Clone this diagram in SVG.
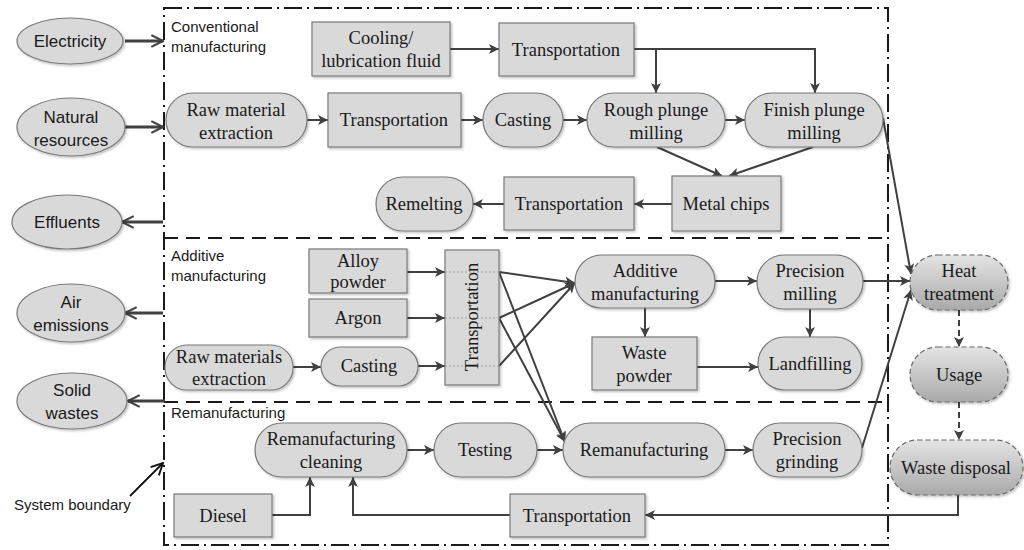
<svg xmlns="http://www.w3.org/2000/svg" width="1024" height="550" viewBox="0 0 1024 550">
<defs>
<style>
.n{fill:#d9d9d9;stroke:#7a7a7a;stroke-width:1.2;filter:url(#sh)}
.g{fill:url(#gr);stroke:#6a6a6a;stroke-width:1.2;stroke-dasharray:5 3;filter:url(#sh)}
.e{fill:#d9d9d9;stroke:#7a7a7a;stroke-width:1.2;filter:url(#sh)}
.t{font-family:"Liberation Serif","Times New Roman",serif;font-size:18.5px;fill:#1a1a1a;text-anchor:middle}
.s{font-family:"Liberation Sans",Arial,sans-serif;font-size:17px;fill:#1a1a1a;text-anchor:middle}
.l{font-family:"Liberation Sans",Arial,sans-serif;font-size:15px;fill:#1a1a1a}
.c{fill:none;stroke:#404040;stroke-width:2;marker-end:url(#a)}
.cn{fill:none;stroke:#404040;stroke-width:2}
.cd{fill:none;stroke:#404040;stroke-width:2;stroke-dasharray:6 4;marker-end:url(#a)}
.o{fill:none;stroke:#404040;stroke-width:3;marker-end:url(#o)}
.dot{stroke:#a0a0a0;stroke-width:1;stroke-dasharray:2 2}
</style>
<filter id="sh" x="-10%" y="-10%" width="125%" height="130%">
<feDropShadow dx="1.5" dy="1.5" stdDeviation="1.2" flood-color="#000" flood-opacity="0.25"/>
</filter>
<linearGradient id="gr" x1="0" y1="0" x2="0" y2="1">
<stop offset="0" stop-color="#e4e4e4"/>
<stop offset="1" stop-color="#a9a9a9"/>
</linearGradient>
<marker id="a" viewBox="0 0 10 10" refX="10" refY="5" markerWidth="12" markerHeight="10" markerUnits="userSpaceOnUse" orient="auto">
<path d="M0,0 L10,5 L0,10 L2.5,5 z" fill="#404040"/>
</marker>
<marker id="o" viewBox="0 0 12 12" refX="11" refY="6" markerWidth="14" markerHeight="16" markerUnits="userSpaceOnUse" orient="auto">
<path d="M1,1 L11,6 L1,11" fill="none" stroke="#404040" stroke-width="1.8"/>
</marker>
<marker id="ob" viewBox="0 0 12 12" refX="11" refY="6" markerWidth="14" markerHeight="14" markerUnits="userSpaceOnUse" orient="auto">
<path d="M1,1 L11,6 L1,11" fill="none" stroke="#111" stroke-width="1.6"/>
</marker>
</defs>
<rect width="1024" height="550" fill="#fff"/>

<g id="boundary">
<rect x="164" y="8" width="724" height="537" fill="none" stroke="#1a1a1a" stroke-width="2" stroke-dasharray="18 5 2 5"/>
<line x1="164" y1="238" x2="888" y2="238" stroke="#1a1a1a" stroke-width="2" stroke-dasharray="14 8"/>
<line x1="164" y1="402" x2="888" y2="402" stroke="#1a1a1a" stroke-width="2" stroke-dasharray="14 8"/>
<text class="l" x="171" y="32">Conventional</text>
<text class="l" x="171" y="52">manufacturing</text>
<text class="l" x="171" y="261">Additive</text>
<text class="l" x="171" y="281">manufacturing</text>
<text class="l" x="171" y="418">Remanufacturing</text>
<text class="l" x="14" y="510">System boundary</text>
</g>

<g id="connectors">
<path class="o" d="M125,41 H163"/>
<path class="o" d="M125,127 H163"/>
<path class="o" d="M163,222 H122"/>
<path class="o" d="M163,313 H125"/>
<path class="o" d="M165,401 H128"/>
<path d="M130,496 L163,463" fill="none" stroke="#111" stroke-width="1.8" marker-end="url(#ob)"/>
<path class="c" d="M450,49 H499"/>
<path class="c" d="M634,49 H656 V93"/>
<path class="c" d="M656,49 H815 V93"/>
<path class="c" d="M307,120 H328"/>
<path class="c" d="M461,120 H483"/>
<path class="c" d="M563,120 H587"/>
<path class="c" d="M725,120 H745"/>
<path class="c" d="M657,147 L722,176"/>
<path class="c" d="M813,147 L729,176"/>
<path class="c" d="M672,204 H634"/>
<path class="c" d="M504,204 H473"/>
<path class="c" d="M883,118 L911,274"/>
<path class="c" d="M407,272 H445"/>
<path class="c" d="M407,318 H445"/>
<path class="c" d="M293,367 H321"/>
<path class="c" d="M418,366 H445"/>
<path class="c" d="M499,272 L575,283"/>
<path class="c" d="M499,318 L575,283"/>
<path class="c" d="M499,366 L575,283"/>
<path class="c" d="M499,272 L565,442"/>
<path class="c" d="M499,318 L565,442"/>
<path class="c" d="M715,281 H757"/>
<path class="c" d="M863,281 H910"/>
<path class="c" d="M645,308 V337"/>
<path class="c" d="M810,309 V337"/>
<path class="c" d="M697,367 H758"/>
<path class="c" d="M407,450 H434"/>
<path class="c" d="M537,450 H563"/>
<path class="c" d="M725,450 H753"/>
<path class="c" d="M862,448 L911,290"/>
<path class="c" d="M272,515 H310 V477"/>
<path class="c" d="M510,515 H353 V477"/>
<path class="c" d="M958,495 V515 H645"/>
<path class="cd" d="M959,310 V347"/>
<path class="cd" d="M959,402 V440"/>
</g>

<g id="electricity"><ellipse class="e" cx="70" cy="41" rx="53" ry="23"/><text class="s" x="70" y="47">Electricity</text></g>
<g id="natural-resources"><ellipse class="e" cx="71" cy="127" rx="54" ry="29"/><text class="s" x="71" y="123">Natural</text><text class="s" x="71" y="146">resources</text></g>
<g id="effluents"><ellipse class="e" cx="67" cy="222" rx="55" ry="27"/><text class="s" x="67" y="228">Effluents</text></g>
<g id="air-emissions"><ellipse class="e" cx="71" cy="313" rx="54" ry="29"/><text class="s" x="71" y="308">Air</text><text class="s" x="71" y="331">emissions</text></g>
<g id="solid-wastes"><ellipse class="e" cx="72" cy="401" rx="55" ry="28"/><text class="s" x="72" y="396">Solid</text><text class="s" x="72" y="419">wastes</text></g>

<g id="cooling"><rect class="n" x="312" y="22" width="138" height="54"/><text class="t" x="381" y="44">Cooling/</text><text class="t" x="381" y="67">lubrication fluid</text></g>
<g id="transport-1"><rect class="n" x="499" y="23" width="135" height="53"/><text class="t" x="566" y="56">Transportation</text></g>
<g id="raw-material"><rect class="n" x="166" y="93" width="141" height="54" rx="27"/><text class="t" x="236" y="116">Raw material</text><text class="t" x="236" y="139">extraction</text></g>
<g id="transport-2"><rect class="n" x="328" y="93" width="133" height="54"/><text class="t" x="394" y="126">Transportation</text></g>
<g id="casting-1"><rect class="n" x="483" y="93" width="80" height="54" rx="27"/><text class="t" x="523" y="126">Casting</text></g>
<g id="rough"><rect class="n" x="587" y="93" width="138" height="54" rx="27"/><text class="t" x="656" y="116">Rough plunge</text><text class="t" x="656" y="139">milling</text></g>
<g id="finish"><rect class="n" x="745" y="93" width="138" height="54" rx="27"/><text class="t" x="814" y="116">Finish plunge</text><text class="t" x="814" y="139">milling</text></g>
<g id="metal-chips"><rect class="n" x="672" y="176" width="109" height="55"/><text class="t" x="726" y="210">Metal chips</text></g>
<g id="transport-3"><rect class="n" x="504" y="177" width="130" height="53"/><text class="t" x="569" y="210">Transportation</text></g>
<g id="remelting"><rect class="n" x="376" y="177" width="97" height="54" rx="27"/><text class="t" x="424" y="210">Remelting</text></g>

<g id="alloy"><rect class="n" x="309" y="249" width="98" height="44"/><text class="t" x="358" y="267">Alloy</text><text class="t" x="358" y="288">powder</text></g>
<g id="argon"><rect class="n" x="309" y="299" width="98" height="38"/><text class="t" x="358" y="324">Argon</text></g>
<g id="transport-v"><rect class="n" x="445" y="250" width="54" height="135"/>
<line class="dot" x1="445" y1="272" x2="499" y2="272"/><line class="dot" x1="445" y1="318" x2="499" y2="318"/><line class="dot" x1="445" y1="366" x2="499" y2="366"/>
<text class="t" transform="translate(478,317) rotate(-90)">Transportation</text></g>
<g id="raw-materials"><rect class="n" x="165" y="345" width="128" height="45" rx="22"/><text class="t" x="229" y="363">Raw materials</text><text class="t" x="229" y="385">extraction</text></g>
<g id="casting-2"><rect class="n" x="321" y="347" width="97" height="39" rx="19.5"/><text class="t" x="369" y="372">Casting</text></g>
<g id="additive"><rect class="n" x="575" y="255" width="140" height="53" rx="26.5"/><text class="t" x="645" y="277">Additive</text><text class="t" x="645" y="300">manufacturing</text></g>
<g id="precision-milling"><rect class="n" x="757" y="255" width="106" height="54" rx="27"/><text class="t" x="810" y="277">Precision</text><text class="t" x="810" y="300">milling</text></g>
<g id="waste-powder"><rect class="n" x="592" y="337" width="105" height="53"/><text class="t" x="644" y="359">Waste</text><text class="t" x="644" y="382">powder</text></g>
<g id="landfilling"><rect class="n" x="758" y="337" width="104" height="53" rx="26.5"/><text class="t" x="810" y="370">Landfilling</text></g>

<g id="reman-cleaning"><rect class="n" x="255" y="423" width="152" height="54" rx="27"/><text class="t" x="331" y="445">Remanufacturing</text><text class="t" x="331" y="468">cleaning</text></g>
<g id="testing"><rect class="n" x="434" y="423" width="103" height="54" rx="27"/><text class="t" x="485" y="456">Testing</text></g>
<g id="remanufacturing"><rect class="n" x="563" y="423" width="162" height="54" rx="27"/><text class="t" x="644" y="456">Remanufacturing</text></g>
<g id="precision-grinding"><rect class="n" x="753" y="423" width="109" height="54" rx="27"/><text class="t" x="807" y="445">Precision</text><text class="t" x="807" y="468">grinding</text></g>
<g id="diesel"><rect class="n" x="174" y="494" width="98" height="43"/><text class="t" x="223" y="522">Diesel</text></g>
<g id="transport-4"><rect class="n" x="510" y="494" width="135" height="43"/><text class="t" x="577" y="522">Transportation</text></g>

<g id="heat-treatment"><rect class="g" x="910" y="255" width="98" height="55" rx="27.5"/><text class="t" x="959" y="277">Heat</text><text class="t" x="959" y="300">treatment</text></g>
<g id="usage"><rect class="g" x="910" y="347" width="98" height="55" rx="27.5"/><text class="t" x="959" y="381">Usage</text></g>
<g id="waste-disposal"><rect class="g" x="890" y="440" width="133" height="55" rx="27.5"/><text class="t" x="956" y="474">Waste disposal</text></g>
</svg>
